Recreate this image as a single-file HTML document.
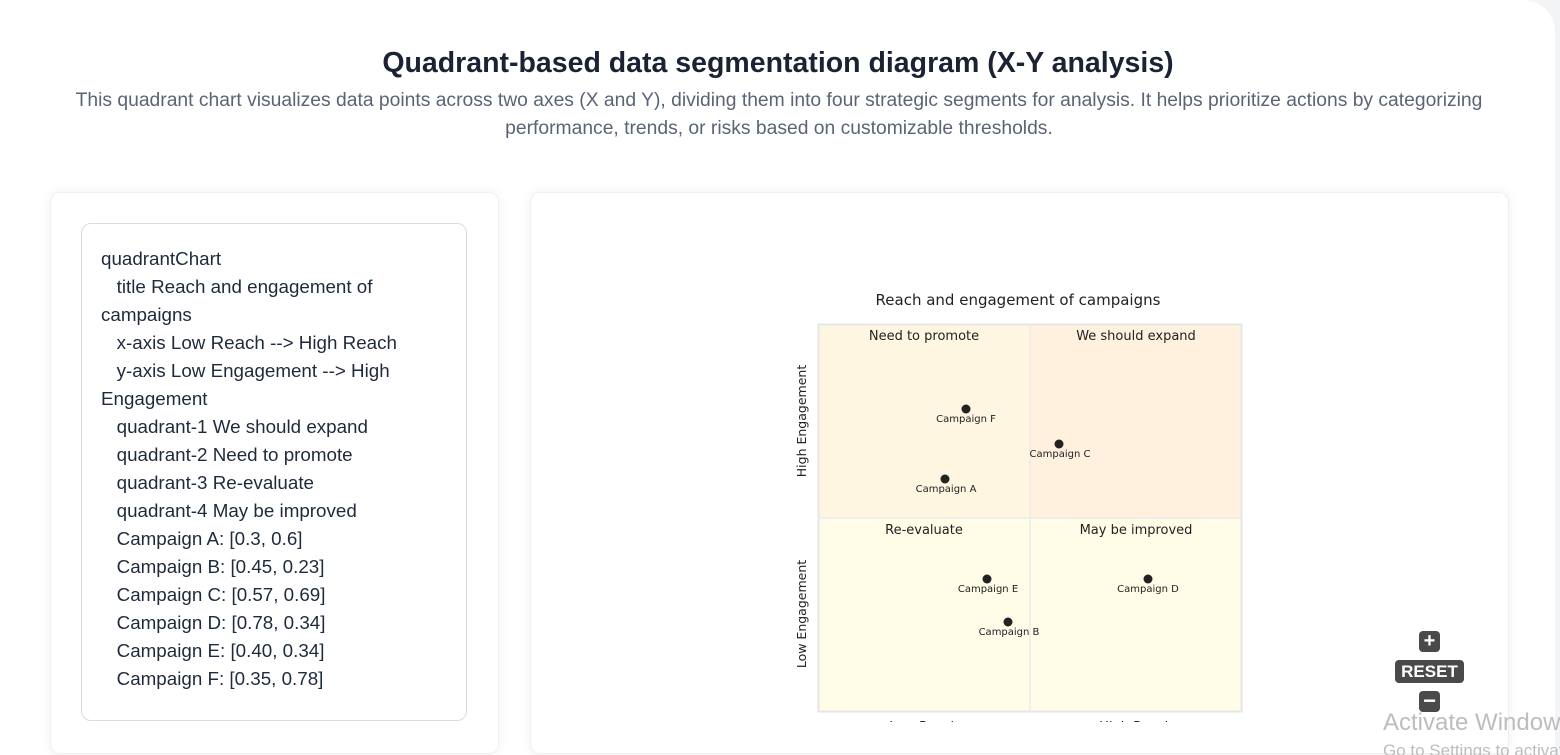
<!DOCTYPE html>
<html><head><meta charset="utf-8"><style>
html,body{margin:0;width:1560px;height:755px;overflow:hidden;}
body{position:relative;background:#f3f4f6;font-family:"Liberation Sans",sans-serif;}
.outer{position:absolute;left:0;top:0;width:1555px;height:755px;background:#fff;border-radius:0 32px 0 0;}
h1{position:absolute;top:47px;left:0;width:1556px;text-align:center;margin:0;font-size:28.5px;font-weight:bold;color:#1b2233;}
.sub{position:absolute;top:87px;left:60px;width:1438px;text-align:center;font-size:19.3px;line-height:28px;color:#5b6475;}
.card{position:absolute;background:#fff;border-radius:10px;box-shadow:0 0 12px rgba(0,0,0,0.06);border:1px solid #eef0f3;}
.code{position:absolute;left:81px;top:223px;width:386px;height:498px;border:1px solid #d8dbe3;border-radius:10px;box-sizing:border-box;padding:21px 0 0 19px;font-size:18.8px;line-height:28px;color:#1f2a3c;white-space:pre;}
.btn{position:absolute;background:#4a4a4a;color:#fff;border-radius:4px;font-weight:bold;text-align:center;}
.wm{position:absolute;left:1383px;top:709px;font-size:24px;color:#bdbdbd;white-space:nowrap;}
</style></head><body>
<div class="outer"></div>
<h1>Quadrant-based data segmentation diagram (X-Y analysis)</h1>
<div class="sub">This quadrant chart visualizes data points across two axes (X and Y), dividing them into four strategic segments for analysis. It helps prioritize actions by categorizing performance, trends, or risks based on customizable thresholds.</div>
<div class="card" style="left:50px;top:192px;width:447px;height:560px"></div>
<div class="code">quadrantChart
   title Reach and engagement of
campaigns
   x-axis Low Reach --> High Reach
   y-axis Low Engagement --> High
Engagement
   quadrant-1 We should expand
   quadrant-2 Need to promote
   quadrant-3 Re-evaluate
   quadrant-4 May be improved
   Campaign A: [0.3, 0.6]
   Campaign B: [0.45, 0.23]
   Campaign C: [0.57, 0.69]
   Campaign D: [0.78, 0.34]
   Campaign E: [0.40, 0.34]
   Campaign F: [0.35, 0.78]</div>
<div class="card" style="left:530px;top:192px;width:977px;height:560px"></div>
<svg style="position:absolute;left:0;top:0" width="1560" height="755" font-family="DejaVu Sans, sans-serif">
<defs><clipPath id="c"><rect x="0" y="0" width="1560" height="722"/></clipPath></defs>
<text x="1018" y="305" text-anchor="middle" font-size="15" fill="#222">Reach and engagement of campaigns</text>
<rect x="818" y="324" width="212" height="194" fill="#fff6e1"/>
<rect x="1030" y="324" width="211" height="194" fill="#fff1de"/>
<rect x="818" y="518" width="212" height="193" fill="#fffde8"/>
<rect x="1030" y="518" width="211" height="193" fill="#fffde8"/>
<rect x="818.5" y="324.5" width="423" height="387" fill="none" stroke="#e6e6e6" stroke-width="2"/>
<line x1="1030" y1="324" x2="1030" y2="711" stroke="#ececec" stroke-width="1.5"/>
<line x1="818" y1="518" x2="1241" y2="518" stroke="#ececec" stroke-width="1.5"/>
<g font-size="13" fill="#222" text-anchor="middle">
<text x="924" y="340">Need to promote</text>
<text x="1136" y="340">We should expand</text>
<text x="924" y="534">Re-evaluate</text>
<text x="1136" y="534">May be improved</text>
<g clip-path="url(#c)"><text x="924" y="731">Low Reach</text><text x="1136" y="731">High Reach</text></g>
</g>
<g font-size="12.5" fill="#222" text-anchor="middle">
<text transform="translate(806,421) rotate(-90)">High Engagement</text>
<text transform="translate(806,614) rotate(-90)">Low Engagement</text>
</g>
<g fill="#222">
<circle cx="945" cy="479" r="4.5"/><circle cx="1008" cy="622" r="4.5"/><circle cx="1059" cy="444" r="4.5"/>
<circle cx="1148" cy="579" r="4.5"/><circle cx="987" cy="579" r="4.5"/><circle cx="966" cy="409" r="4.5"/>
</g>
<g font-size="10" fill="#222" text-anchor="middle">
<text x="946" y="492">Campaign A</text><text x="1009" y="635">Campaign B</text><text x="1060" y="457">Campaign C</text>
<text x="1148" y="592">Campaign D</text><text x="988" y="592">Campaign E</text><text x="966" y="422">Campaign F</text>
</g>
</svg>
<div class="btn" style="left:1419px;top:631px;width:21px;height:21px;font-size:20px;line-height:21px">+</div>
<div class="btn" style="left:1395px;top:660px;width:69px;height:23px;font-size:17px;line-height:23px">RESET</div>
<div class="btn" style="left:1419px;top:691px;width:21px;height:21px;font-size:22px;line-height:19px">−</div>
<div class="wm">Activate Windows<div style="font-size:17px;margin-top:4px">Go to Settings to activate Windows.</div></div>
</body></html>
